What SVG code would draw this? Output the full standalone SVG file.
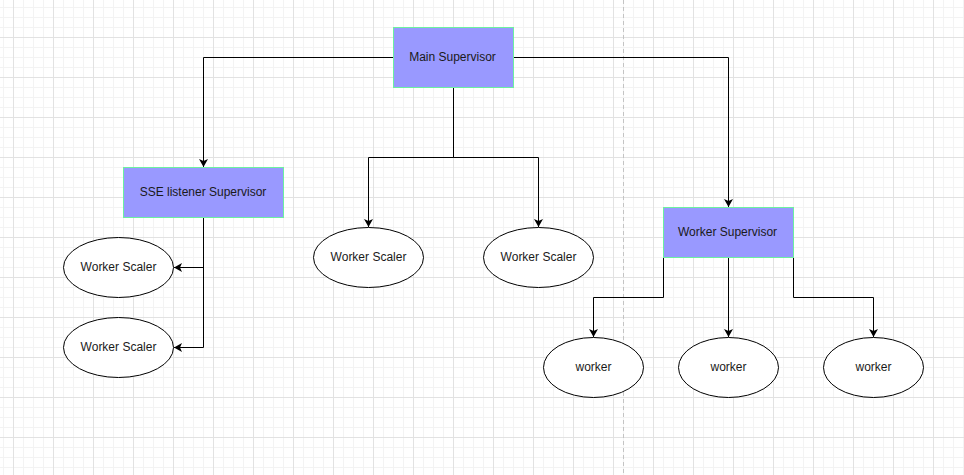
<svg xmlns="http://www.w3.org/2000/svg" width="964" height="475" viewBox="0 0 964 475">
<defs>
<pattern id="grid" patternUnits="userSpaceOnUse" x="13" y="-3" width="40" height="40">
<rect x="10" y="0" width="1" height="40" fill="#f3f3f3"/>
<rect x="20" y="0" width="1" height="40" fill="#f3f3f3"/>
<rect x="30" y="0" width="1" height="40" fill="#f3f3f3"/>
<rect x="0" y="10" width="40" height="1" fill="#f3f3f3"/>
<rect x="0" y="20" width="40" height="1" fill="#f3f3f3"/>
<rect x="0" y="30" width="40" height="1" fill="#f3f3f3"/>
<rect x="0" y="0" width="1" height="40" fill="#e2e2e2"/>
<rect x="0" y="0" width="40" height="1" fill="#e2e2e2"/>
</pattern>
<marker id="arr" viewBox="0 0 8 9" refX="8" refY="4.5" markerWidth="8" markerHeight="9" markerUnits="userSpaceOnUse" orient="auto">
<path d="M0,0 L8,4.5 L0,9 L2,4.5 Z" fill="#000"/>
</marker>
</defs>
<style>
.box{fill:#9999FF;stroke:#6CF0A0;stroke-width:1}
.ell{fill:#fff;stroke:#000;stroke-width:1}
.edge{fill:none;stroke:#000;stroke-width:1;marker-end:url(#arr)}
text{font-family:"Liberation Sans",Arial,sans-serif;font-size:12px;fill:#1a1a1a;text-anchor:middle;dominant-baseline:central}
</style>
<rect x="0" y="0" width="964" height="475" fill="#fff"/>
<rect x="0" y="0" width="964" height="475" fill="url(#grid)"/>
<line x1="623.5" y1="0" x2="623.5" y2="475" stroke="#c4c4c4" stroke-width="1" stroke-dasharray="4 3"/>
<g id="connectors">
<path class="edge" d="M393.5,57.5 H203.5 V167"/>
<path class="edge" d="M513.5,57.5 H728.5 V207"/>
<path class="edge" d="M453.5,87.5 V157.5 H368.5 V227"/>
<path class="edge" d="M453.5,87.5 V157.5 H538.5 V227"/>
<path class="edge" d="M203.5,217.5 V267.5 H174"/>
<path class="edge" d="M203.5,217.5 V347.5 H174"/>
<path class="edge" d="M663.5,257.5 V297.5 H593.5 V337"/>
<path class="edge" d="M728.5,257.5 V337"/>
<path class="edge" d="M793.5,257.5 V297.5 H873.5 V337"/>
</g>
<g id="main-supervisor">
<rect class="box" x="393.5" y="27.5" width="120" height="60"/>
<text x="452.5" y="56.5">Main Supervisor</text>
</g>
<g id="sse-listener-supervisor">
<rect class="box" x="123.5" y="167.5" width="160" height="50"/>
<text x="203" y="191.5">SSE listener Supervisor</text>
</g>
<g id="worker-supervisor">
<rect class="box" x="663.5" y="207.5" width="130" height="50"/>
<text x="727.5" y="231.5">Worker Supervisor</text>
</g>
<g id="worker-scaler-1">
<ellipse class="ell" cx="118.5" cy="267.5" rx="55" ry="30"/>
<text x="118.5" y="266.5">Worker Scaler</text>
</g>
<g id="worker-scaler-2">
<ellipse class="ell" cx="118.5" cy="347.5" rx="55" ry="30"/>
<text x="118.5" y="346.5">Worker Scaler</text>
</g>
<g id="worker-scaler-3">
<ellipse class="ell" cx="368.5" cy="257.5" rx="55" ry="30"/>
<text x="368.5" y="256.5">Worker Scaler</text>
</g>
<g id="worker-scaler-4">
<ellipse class="ell" cx="538.5" cy="257.5" rx="55" ry="30"/>
<text x="538.5" y="256.5">Worker Scaler</text>
</g>
<g id="worker-1">
<ellipse class="ell" cx="593.5" cy="367.5" rx="50" ry="30"/>
<text x="593.5" y="366.5">worker</text>
</g>
<g id="worker-2">
<ellipse class="ell" cx="728.5" cy="367.5" rx="50" ry="30"/>
<text x="728.5" y="366.5">worker</text>
</g>
<g id="worker-3">
<ellipse class="ell" cx="873.5" cy="367.5" rx="50" ry="30"/>
<text x="873.5" y="366.5">worker</text>
</g>
</svg>
